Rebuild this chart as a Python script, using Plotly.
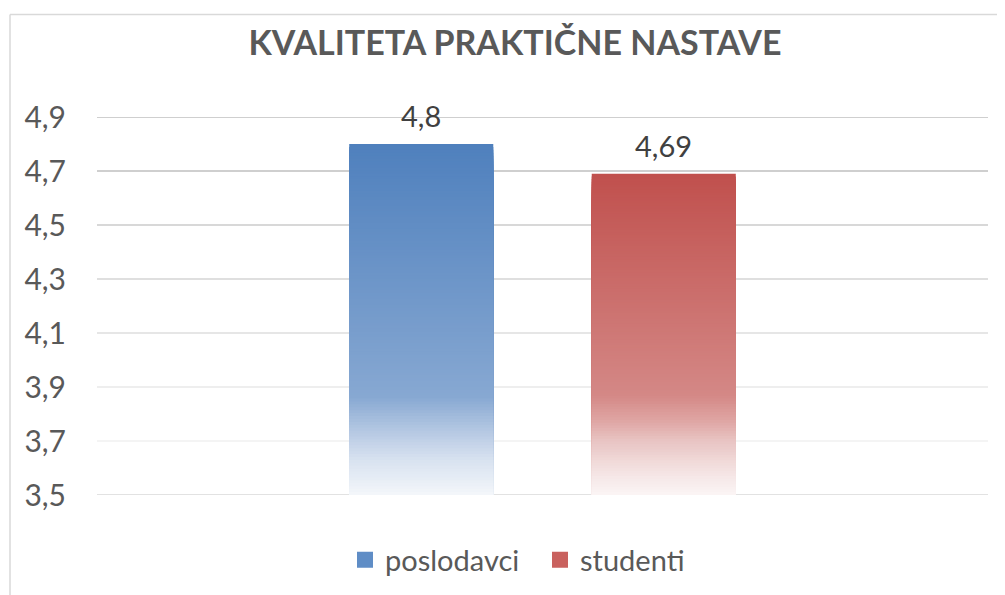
import plotly.graph_objects as go

# ---- data ----
series_names = ["poslodavci", "studenti"]
series_values = [4.8, 4.69]
value_labels = ["4,8", "4,69"]
tick_values = [3.5, 3.7, 3.9, 4.1, 4.3, 4.5, 4.7, 4.9]
tick_labels = ["3,5", "3,7", "3,9", "4,1", "4,3", "4,5", "4,7", "4,9"]
title_text = "KVALITETA PRAKTIČNE NASTAVE"

# ---- styles ----
AXIS_MIN, AXIS_MAX = 3.5, 4.9
FONT = "Lato"
gradients = [
    [(0.0, (79, 128, 189)), (0.72, (135, 168, 210)), (0.78, (163, 188, 220)),
     (0.85, (195, 210, 232)), (0.90, (216, 226, 240)), (0.96, (232, 238, 246)),
     (1.0, (244, 247, 251))],
    [(0.0, (192, 80, 77)), (0.69, (212, 136, 134)), (0.77, (223, 166, 164)),
     (0.83, (232, 195, 194)), (0.89, (240, 216, 215)), (0.95, (246, 233, 233)),
     (1.0, (251, 245, 245))],
]
legend_colors = ["#5f8dc6", "#c9615e"]
grid_colors = ["#d9d9d9", "#f0f0f0", "#e8e8e8", "#dedede", "#d4d4d4", "#cbcbcb", "#bfbfbf", "#bfbfbf"]
N_STEPS = 120

OFF = 8  # page body margin
W, H = 1005, 595
PL, PR, PT, PB = 97, 988, 117, 495  # plot area in screen px
ML, MT = PL - OFF, PT - OFF
MR, MB = W - (PR - OFF), H - (PB - OFF)
PW, PH = PR - PL, PB - PT


def px_x(sx):
    return (sx - PL) / PW


def px_y(sy):
    return (PB - sy) / PH


def grad(stops, t):
    for (t0, c0), (t1, c1) in zip(stops[:-1], stops[1:]):
        if t <= t1:
            f = (t - t0) / (t1 - t0) if t1 > t0 else 0
            c = [round(a + (b - a) * f) for a, b in zip(c0, c1)]
            return f"rgb({c[0]},{c[1]},{c[2]})"
    c = stops[-1][1]
    return f"rgb({c[0]},{c[1]},{c[2]})"


fig = go.Figure()
for name, val, stops in zip(series_names, series_values, gradients):
    h = val - AXIS_MIN
    heights = [h * (1 - i / N_STEPS) for i in range(N_STEPS)]
    colors = [grad(stops, (i + 0.5) / N_STEPS) for i in range(N_STEPS)]
    fig.add_trace(go.Bar(
        x=[name] * N_STEPS, y=heights, base=AXIS_MIN,
        width=0.594, marker=dict(color=colors, line=dict(width=0)),
        showlegend=False, hoverinfo="skip", name=name,
    ))

# legend proxies
for name, col in zip(series_names, legend_colors):
    fig.add_trace(go.Scatter(
        x=[None], y=[None], mode="markers", name=name,
        marker=dict(symbol="square", size=16, color=col),
    ))

annotations = []
for name, val, lab in zip(series_names, series_values, value_labels):
    annotations.append(dict(
        x=name, y=val, text=lab, showarrow=False, yanchor="bottom", yshift=9,
        font=dict(family=FONT, size=29, color="#404040"),
    ))

shapes = []
for tv, gc in zip(tick_values, grid_colors):
    shapes.append(dict(type="line", xref="paper", yref="y", x0=0, x1=1, y0=tv, y1=tv,
                       line=dict(color=gc, width=1.5), layer="below"))
# chart border (left and top)
bx = px_x(10)
by = px_y(14.5)
shapes.append(dict(type="line", xref="paper", yref="paper", x0=bx, x1=px_x(1010),
                   y0=by, y1=by, line=dict(color="#d9d9d9", width=1.5)))
shapes.append(dict(type="line", xref="paper", yref="paper", x0=bx, x1=bx,
                   y0=by, y1=px_y(600), line=dict(color="#d9d9d9", width=1.5)))

fig.update_layout(
    width=W, height=H,
    margin=dict(l=ML, r=MR, t=MT, b=MB),
    paper_bgcolor="white", plot_bgcolor="white",
    separators=",.",
    barmode="overlay",
    title=dict(text=title_text, x=(515 - OFF) / W, xanchor="center", y=1 - (43 - OFF) / H,
               yanchor="middle", yref="container",
               font=dict(family=FONT, size=34, color="#595959", weight="bold")),
    xaxis=dict(range=[-1.337, 2.337], showticklabels=False, showgrid=False, zeroline=False,
               showline=False, fixedrange=True),
    yaxis=dict(range=[AXIS_MIN, AXIS_MAX], tickvals=tick_values, ticktext=tick_labels,
               showgrid=False, zeroline=False, showline=False, ticks="",
               ticklabelstandoff=30,
               tickfont=dict(family=FONT, size=30, color="#595959")),
    legend=dict(orientation="h", x=px_x(345), xanchor="left", y=px_y(560),
                yanchor="middle", font=dict(family=FONT, size=29, color="#595959"),
                entrywidth=150, entrywidthmode="pixels",
                itemsizing="trace", traceorder="normal"),
    annotations=annotations,
    shapes=shapes,
)

fig.write_html("out.html")
